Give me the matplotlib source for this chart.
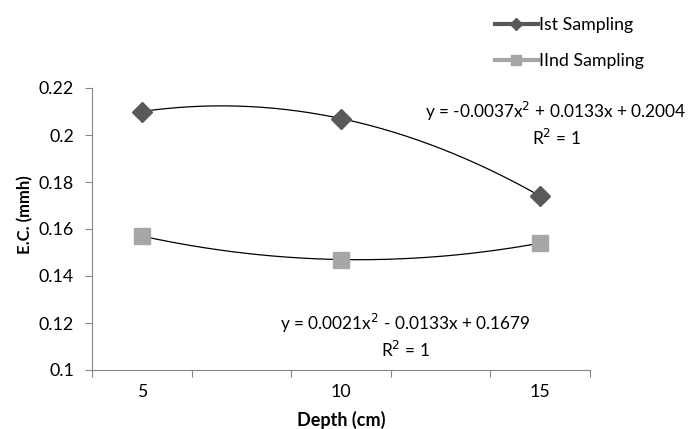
import numpy as np
import matplotlib.pyplot as plt

plt.rcParams['font.family'] = ['Lato', 'DejaVu Sans']

# categories on the x axis (blank slots between the depths, as in the original sheet)
depth_labels = ['5', '', '10', '', '15']
sample_pos = [1, 3, 5]
ist = [0.210, 0.207, 0.174]
iind = [0.157, 0.147, 0.154]

eq_ist = 'y = -0.0037x$^2$ + 0.0133x + 0.2004\nR$^2$ = 1'
eq_iind = 'y = 0.0021x$^2$ - 0.0133x + 0.1679\nR$^2$ = 1'

fig = plt.figure(figsize=(6.93, 4.29), dpi=100)
ax = fig.add_axes([92 / 693, 1 - 370 / 429, 498 / 693, 282 / 429])

c1 = '#595959'
c2 = '#a6a6a6'

# markers only, lines show up in the legend
l1, = ax.plot(sample_pos, ist, color=c1, lw=3, marker='D', ms=10, linestyle='none')
l2, = ax.plot(sample_pos, iind, color=c2, lw=3, marker='s', ms=11, linestyle='none')

# quadratic trend lines
xs = np.linspace(sample_pos[0], sample_pos[-1], 200)
for vals in (ist, iind):
    p = np.polyfit(sample_pos, vals, 2)
    ax.plot(xs, np.polyval(p, xs), color='black', lw=0.9, zorder=1)

ax.set_xlim(0.5, len(depth_labels) + 0.5)
ax.set_ylim(0.1, 0.22)
ax.set_yticks(np.arange(0.1, 0.2201, 0.02))
ax.set_yticklabels(['0.1', '0.12', '0.14', '0.16', '0.18', '0.2', '0.22'])

# tick marks between categories, labels centred on categories
ax.set_xticks(np.arange(0.5, len(depth_labels) + 1, 1))
ax.set_xticklabels([])
ax.set_xticks(np.arange(1, len(depth_labels) + 1), minor=True)
ax.set_xticklabels(depth_labels, minor=True)
ax.tick_params(axis='x', which='minor', length=0, pad=10, labelsize=12.8)
ax.tick_params(axis='x', which='major', length=5, color='#868686')
ax.tick_params(axis='y', length=5, color='#868686', labelsize=12.8, pad=8)

for s in ['top', 'right']:
    ax.spines[s].set_visible(False)
for s in ['left', 'bottom']:
    ax.spines[s].set_color('#868686')

ax.set_xlabel('Depth (cm)', fontsize=13, fontweight='bold', labelpad=8)
ax.set_ylabel('E.C. (mmh)', fontsize=12, fontweight='bold')
ax.yaxis.set_label_coords(-0.118, 0.55)

fig.text(556 / 693, 1 - 124 / 429, eq_ist, ha='center', va='center', fontsize=12.4, linespacing=1.3)
fig.text(405 / 693, 1 - 336 / 429, eq_iind, ha='center', va='center', fontsize=12.4, linespacing=1.3)

fig.legend([l1, l2], ['Ist Sampling', 'IInd Sampling'], loc='upper left',
           bbox_to_anchor=(479 / 693, 1 - 1 / 429), frameon=False, fontsize=12.8,
           labelspacing=1.15, handlelength=2.4, handletextpad=0.05, markerscale=0.6)
for h in fig.legends[0].legend_handles:
    h.set_linestyle('-')

fig.savefig('out.png', dpi=100)
